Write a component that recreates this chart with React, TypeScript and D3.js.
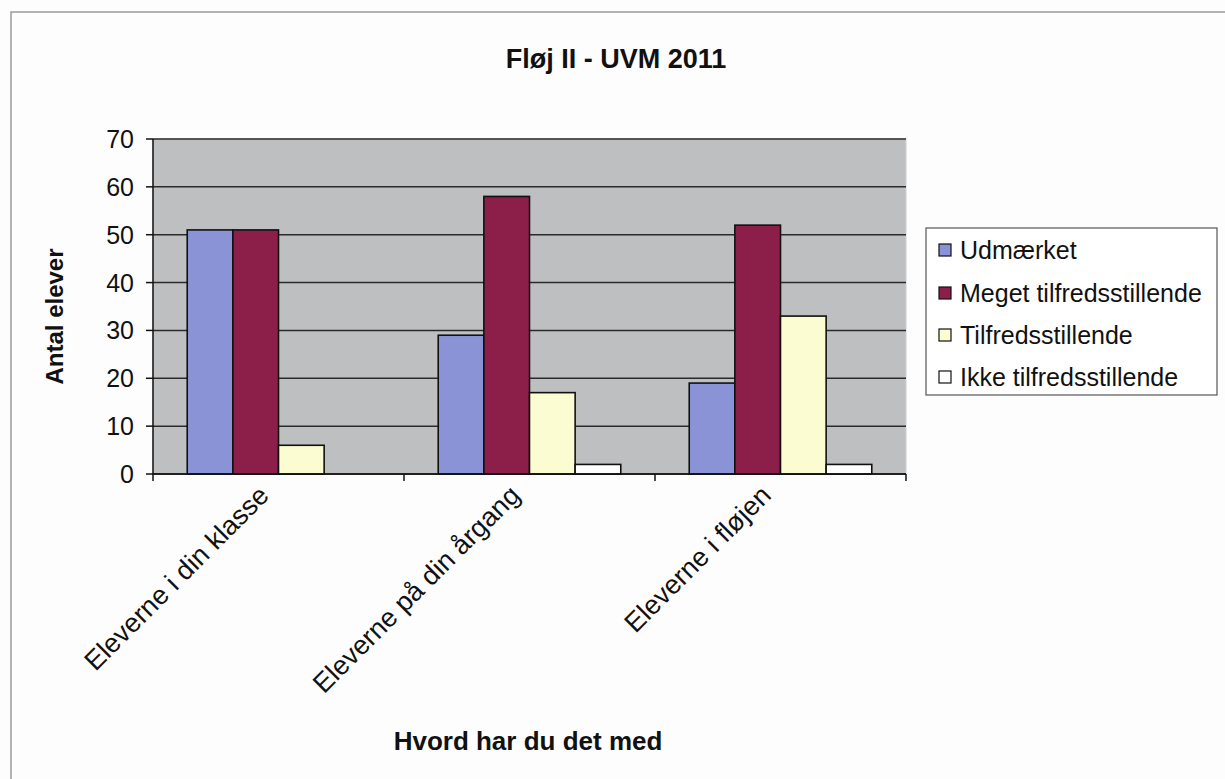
import React from "react";
import * as d3 from "d3";

const title = "Fløj II - UVM 2011";
const yAxisTitle = "Antal elever";
const xAxisTitle = "Hvord har du det med";
const categories = ["Eleverne i din klasse", "Eleverne på din årgang", "Eleverne i fløjen"];
const seriesNames = ["Udmærket", "Meget tilfredsstillende", "Tilfredsstillende", "Ikke tilfredsstillende"];
const udmaerket = [51, 29, 19];
const megetTilfreds = [51, 58, 52];
const tilfreds = [6, 17, 33];
const ikkeTilfreds = [0, 2, 2];
const seriesColors = ["#8a93d6", "#8c1f4a", "#fcfcd2", "#ffffff"];
const yTicks = [0, 10, 20, 30, 40, 50, 60, 70];

const W = 1225;
const H = 779;
const plot = { left: 153, right: 906, top: 139, bottom: 474 };
const FONT = "'Liberation Sans', Arial, sans-serif";

export default function App() {
  const seriesValues = [udmaerket, megetTilfreds, tilfreds, ikkeTilfreds];
  const x0 = d3.scaleBand<string>().domain(categories).range([plot.left, plot.right]).paddingInner(0).paddingOuter(0);
  const bw = x0.bandwidth();
  const barW = bw / 5.5;
  const x1 = d3
    .scaleBand<number>()
    .domain(d3.range(seriesNames.length))
    .range([barW * 0.75, barW * 0.75 + barW * 4])
    .padding(0);
  const y = d3.scaleLinear().domain([0, 70]).range([plot.bottom, plot.top]);

  const boundaries = [...categories.map((c) => x0(c) as number), plot.right];
  const legendRows = [250, 293, 335, 377];

  return (
    <svg width={W} height={H} style={{ position: "absolute", left: 0, top: 0, background: "#fdfdfd" }} fontFamily={FONT}>
      <rect x={0} y={0} width={W} height={H} fill="#fdfdfd" />
      <path d={`M11 ${H} V12 H${W}`} fill="none" stroke="#9a9a9a" strokeWidth={1.5} />

      <text x={616} y={68} textAnchor="middle" fontSize={27} fontWeight="bold" fill="#111">
        {title}
      </text>

      {/* plot area */}
      <rect x={plot.left} y={plot.top} width={plot.right - plot.left} height={plot.bottom - plot.top} fill="#bdbfc1" stroke="#d0d0d0" strokeWidth={1} />
      {yTicks.map((t) => (
        <line key={"g" + t} x1={plot.left} x2={plot.right} y1={y(t)} y2={y(t)} stroke="#2a2a2a" strokeWidth={1.5} />
      ))}

      {/* bars */}
      {categories.map((c, ci) => (
        <g key={c} transform={`translate(${x0(c)},0)`}>
          {seriesValues.map((vals, si) => {
            const v = vals[ci];
            if (v <= 0) return null;
            return (
              <rect
                key={si}
                x={x1(si)}
                y={y(v)}
                width={x1.bandwidth()}
                height={y(0) - y(v)}
                fill={seriesColors[si]}
                stroke="#111"
                strokeWidth={1.6}
              />
            );
          })}
        </g>
      ))}

      {/* axes */}
      <line x1={plot.left} x2={plot.left} y1={plot.top} y2={plot.bottom} stroke="#111" strokeWidth={1.5} />
      <line x1={plot.left} x2={plot.right} y1={plot.bottom} y2={plot.bottom} stroke="#111" strokeWidth={1.5} />
      {yTicks.map((t) => (
        <g key={"t" + t}>
          <line x1={plot.left - 7} x2={plot.left} y1={y(t)} y2={y(t)} stroke="#111" strokeWidth={1.5} />
          <text x={134} y={y(t)} dy="0.36em" textAnchor="end" fontSize={25} fill="#111">
            {t}
          </text>
        </g>
      ))}
      {boundaries.map((b, i) => (
        <line key={"xb" + i} x1={b} x2={b} y1={plot.bottom} y2={plot.bottom + 7} stroke="#111" strokeWidth={1.5} />
      ))}
      {categories.map((c) => {
        const cx = (x0(c) as number) + bw / 2 - 8;
        const cy = 497;
        return (
          <text key={"xl" + c} x={cx} y={cy} textAnchor="end" fontSize={27} fill="#111" transform={`rotate(-45 ${cx} ${cy})`}>
            {c}
          </text>
        );
      })}

      <text x={54} y={(plot.top + plot.bottom) / 2 + 10} textAnchor="middle" fontSize={24} fontWeight="bold" fill="#111" transform={`rotate(-90 54 ${(plot.top + plot.bottom) / 2 + 10}) translate(0 9)`}>
        {yAxisTitle}
      </text>
      <text x={528} y={750} textAnchor="middle" fontSize={26} fontWeight="bold" fill="#111">
        {xAxisTitle}
      </text>

      {/* legend */}
      <rect x={926} y={228} width={291} height={167} fill="#ffffff" stroke="#555" strokeWidth={1.2} />
      {seriesNames.map((s, i) => (
        <g key={s}>
          <rect x={939} y={legendRows[i] - 6} width={12} height={12} fill={seriesColors[i]} stroke="#111" strokeWidth={1.2} />
          <text x={960} y={legendRows[i]} dy="0.36em" fontSize={25} fill="#111">
            {s}
          </text>
        </g>
      ))}
    </svg>
  );
}
